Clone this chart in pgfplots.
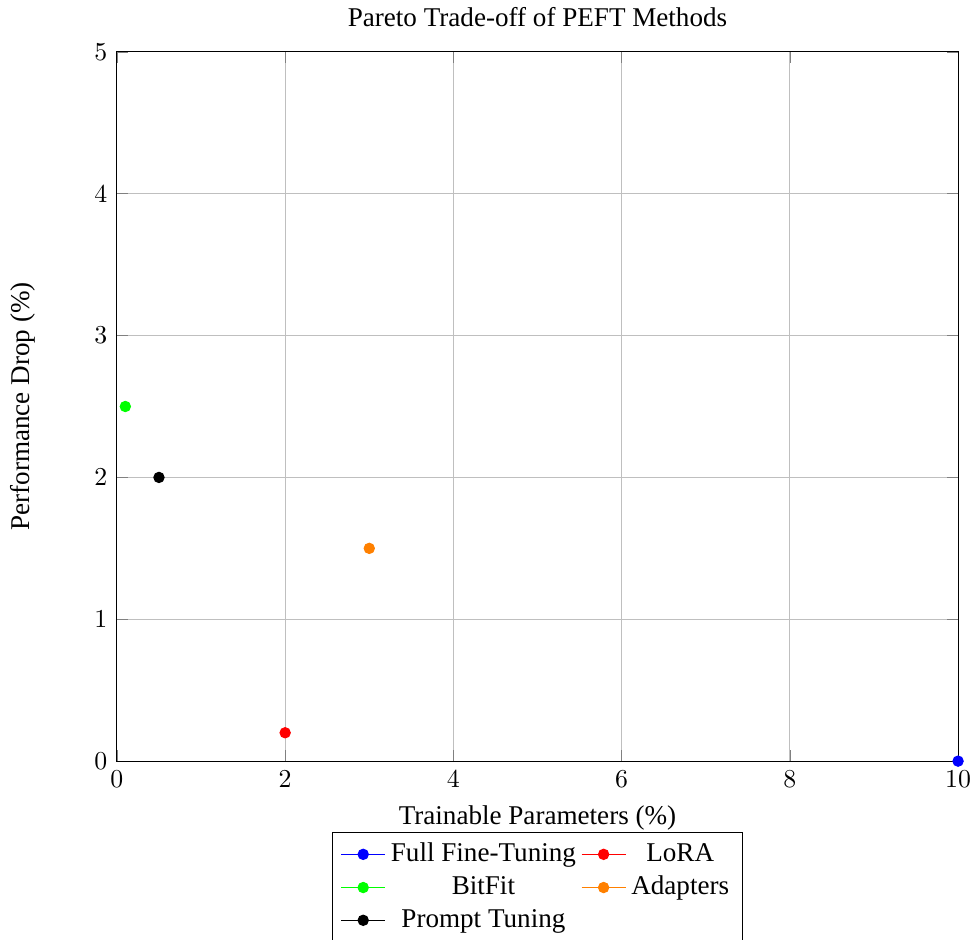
\documentclass[border=0pt]{standalone}
\usepackage{pgfplots}
\pgfplotsset{compat=1.18}
\usepackage{fontspec}
\setmainfont[Scale=1.05]{Liberation Serif}

\begin{document}
\begin{tikzpicture}
\begin{axis}[
    name=ax,
    scale only axis,
    width=325.9pt, height=274.8pt,
    xmin=0, xmax=10,
    ymin=0, ymax=5,
    xtick={0,2,4,6,8,10},
    ytick={0,1,2,3,4,5},
    grid=major,
    title={Pareto Trade-off of PEFT Methods},
    xlabel={Trainable Parameters (\%)},
    ylabel={Performance Drop (\%)},
    y label style={at={(axis description cs:-0.112,0.5)}, anchor=center, rotate=0},
    legend columns=2,
    legend cell align=center,
    legend style={at={(0.5,-0.1)}, anchor=north},
    clip=false,
]
\addplot[blue, mark=*] coordinates {(10,0)};
\addlegendentry{Full Fine-Tuning}
\addplot[red, mark=*] coordinates {(2,0.2)};
\addlegendentry{LoRA}
\addplot[green, mark=*] coordinates {(0.1,2.5)};
\addlegendentry{BitFit}
\addplot[orange, mark=*] coordinates {(3,1.5)};
\addlegendentry{Adapters}
\addplot[black, mark=*] coordinates {(0.5,2)};
\addlegendentry{Prompt Tuning}
\end{axis}
\pgfresetboundingbox
\path[use as bounding box] ([xshift=-45.3pt,yshift=-69pt]ax.south west) rectangle ([xshift=5.4pt,yshift=20.1pt]ax.north east);
\end{tikzpicture}
\end{document}
